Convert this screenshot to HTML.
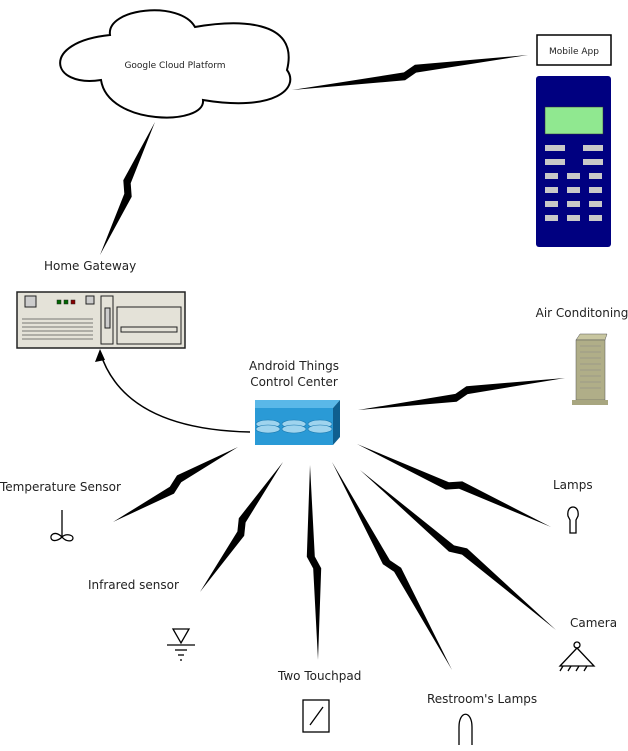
<!DOCTYPE html>
<html><head><style>
body{margin:0;background:#fff;}
svg text{font-family:"DejaVu Sans","Liberation Sans",sans-serif;fill:#222;}
</style></head><body>
<svg id="s" width="628" height="746" viewBox="0 0 628 746" xmlns="http://www.w3.org/2000/svg">
<path d="M110,35 C106,8 180,0 195,27 C235,20 300,18 287,70 C300,88 275,112 203,100 C206,126 108,126 101,80 C50,88 40,42 110,35 Z" fill="#fff" stroke="#000" stroke-width="2"/>
<text x="175" y="68" font-size="9" text-anchor="middle">Google Cloud Platform</text>
<rect x="537" y="35" width="74" height="30" fill="#fff" stroke="#000" stroke-width="1.5"/>
<text x="574" y="54" font-size="9" text-anchor="middle">Mobile App</text>
<rect x="536" y="76" width="75" height="171" rx="3" fill="#000080"/>
<rect x="545" y="107" width="58" height="27" fill="#90e890" stroke="#333" stroke-width="0.5"/>
<g fill="#c8c8c8">
<rect x="545" y="145" width="20" height="6"/><rect x="583" y="145" width="20" height="6"/>
<rect x="545" y="159" width="20" height="6"/><rect x="583" y="159" width="20" height="6"/>
<rect x="545" y="173" width="13" height="6"/><rect x="567" y="173" width="13" height="6"/><rect x="589" y="173" width="13" height="6"/>
<rect x="545" y="187" width="13" height="6"/><rect x="567" y="187" width="13" height="6"/><rect x="589" y="187" width="13" height="6"/>
<rect x="545" y="201" width="13" height="6"/><rect x="567" y="201" width="13" height="6"/><rect x="589" y="201" width="13" height="6"/>
<rect x="545" y="215" width="13" height="6"/><rect x="567" y="215" width="13" height="6"/><rect x="589" y="215" width="13" height="6"/>
</g>
<text x="44" y="270" font-size="12">Home Gateway</text>
<rect x="17" y="292" width="168" height="56" fill="#e4e2d8" stroke="#222" stroke-width="1.5"/>
<rect x="25" y="296" width="11" height="11" fill="#ccc" stroke="#222"/>
<rect x="57" y="300" width="4" height="4" fill="#060" stroke="#222" stroke-width="0.5"/>
<rect x="64" y="300" width="4" height="4" fill="#060" stroke="#222" stroke-width="0.5"/>
<rect x="71" y="300" width="4" height="4" fill="#800" stroke="#222" stroke-width="0.5"/>
<rect x="86" y="296" width="8" height="8" fill="#ccc" stroke="#222"/>
<g stroke="#555" stroke-width="0.7"><line x1="22" y1="319" x2="93" y2="319"/><line x1="22" y1="323" x2="93" y2="323"/><line x1="22" y1="327" x2="93" y2="327"/><line x1="22" y1="331" x2="93" y2="331"/><line x1="22" y1="335" x2="93" y2="335"/><line x1="22" y1="339" x2="93" y2="339"/></g>
<rect x="101" y="296" width="12" height="48" fill="none" stroke="#222"/>
<rect x="105" y="308" width="5" height="20" fill="#ccc" stroke="#222"/>
<rect x="117" y="307" width="64" height="37" fill="none" stroke="#222"/>
<rect x="121" y="327" width="56" height="5" fill="none" stroke="#222"/>
<text x="294" y="370" font-size="12" text-anchor="middle">Android Things</text>
<text x="294" y="386" font-size="12" text-anchor="middle">Control Center</text>
<polygon points="255,400 340,400 333,408 255,408" fill="#5ab8e8"/>
<polygon points="333,408 340,400 340,437 333,445" fill="#0f5f8f"/>
<rect x="255" y="408" width="78" height="37" fill="#2a9ad6"/>
<g fill="#9fd4ee" stroke="#1a7ab0" stroke-width="0.6">
<ellipse cx="268" cy="424" rx="12" ry="4"/><ellipse cx="268" cy="429" rx="12" ry="4"/>
<ellipse cx="294" cy="424" rx="12" ry="4"/><ellipse cx="294" cy="429" rx="12" ry="4"/>
<ellipse cx="320" cy="424" rx="12" ry="4"/><ellipse cx="320" cy="429" rx="12" ry="4"/>
</g>
<path d="M250,432 C160,430 115,400 100,352" fill="none" stroke="#000" stroke-width="1.5"/>
<polygon points="100,349 95,362 105,360" fill="#000"/>
<text x="582" y="317" font-size="12" text-anchor="middle">Air Conditoning</text>
<polygon points="576,340 605,340 607,334 580,334" fill="#c8c6a0" stroke="#555" stroke-width="0.5"/>
<rect x="576" y="340" width="29" height="60" fill="#b0ae88" stroke="#555" stroke-width="0.5"/>
<g stroke="#888" stroke-width="0.5"><line x1="580" y1="346" x2="601" y2="346"/><line x1="580" y1="352" x2="601" y2="352"/><line x1="580" y1="358" x2="601" y2="358"/><line x1="580" y1="364" x2="601" y2="364"/><line x1="580" y1="370" x2="601" y2="370"/><line x1="580" y1="376" x2="601" y2="376"/><line x1="580" y1="382" x2="601" y2="382"/><line x1="580" y1="388" x2="601" y2="388"/></g>
<rect x="572" y="400" width="36" height="5" fill="#a8a680"/>
<text x="0" y="491" font-size="12">Temperature Sensor</text>
<text x="88" y="589" font-size="12">Infrared sensor</text>
<text x="278" y="680" font-size="12">Two Touchpad</text>
<text x="427" y="703" font-size="12">Restroom's Lamps</text>
<text x="570" y="627" font-size="12">Camera</text>
<text x="553" y="489" font-size="12">Lamps</text>
<g fill="none" stroke="#000" stroke-width="1.3">
<line x1="62" y1="510" x2="62" y2="537"/>
<path d="M62,537 C55,530 50,535 51,538 C52,542 58,541 62,537 C66,533 73,535 73,538 C73,542 66,542 62,537Z"/>
<polygon points="173,629 189,629 181,643"/>
<line x1="167" y1="645" x2="195" y2="645"/>
<line x1="175" y1="650" x2="187" y2="650"/><line x1="178" y1="655" x2="184" y2="655"/><line x1="180" y1="660" x2="182" y2="660"/>
<rect x="303" y="700" width="26" height="32"/><line x1="310" y1="725" x2="323" y2="707"/>
<path d="M459,745 L459,727 C459,710 472,710 472,727 L472,745"/>
<path d="M568,516 C566,504 580,504 578,516 L576,520 L576,533 L570,533 L570,520 Z"/>
<circle cx="577" cy="645" r="3"/>
<polygon points="577,648 560,666 594,666"/>
<path d="M563,666 l-3,5 M571,666 l-3,5 M579,666 l-3,5 M587,666 l-3,5"/>
</g>
<g id="bolts" fill="#000"></g>
</svg>
<script>
var L=[[292,90,528,55],[155,122,100,255],[358,410,565,378],[238,447,113,522],[283,462,200,592],[310,465,318,660],[332,462,452,670],[360,470,556,630],[357,444,551,527]];
var g=document.getElementById('bolts'),s='';
L.forEach(function(b){var ax=b[0],ay=b[1],bx=b[2],by=b[3],w=4;var dx=bx-ax,dy=by-ay,len=Math.hypot(dx,dy);var tx=dx/len,ty=dy/len,nx=-ty,ny=tx;var mx=(ax+bx)/2,my=(ay+by)/2,d=6,h=3;
var c1=[mx-tx*d+nx*h,my-ty*d+ny*h],c2=[mx+tx*d-nx*h,my+ty*d-ny*h];
var p=[[ax,ay],[c1[0]+nx*w,c1[1]+ny*w],[c2[0]+nx*w,c2[1]+ny*w],[bx,by],[c2[0]-nx*w,c2[1]-ny*w],[c1[0]-nx*w,c1[1]-ny*w]];
s+='<polygon points="'+p.map(function(q){return q[0].toFixed(1)+','+q[1].toFixed(1)}).join(' ')+'"/>';});
g.innerHTML=s;
</script>
</body></html>
